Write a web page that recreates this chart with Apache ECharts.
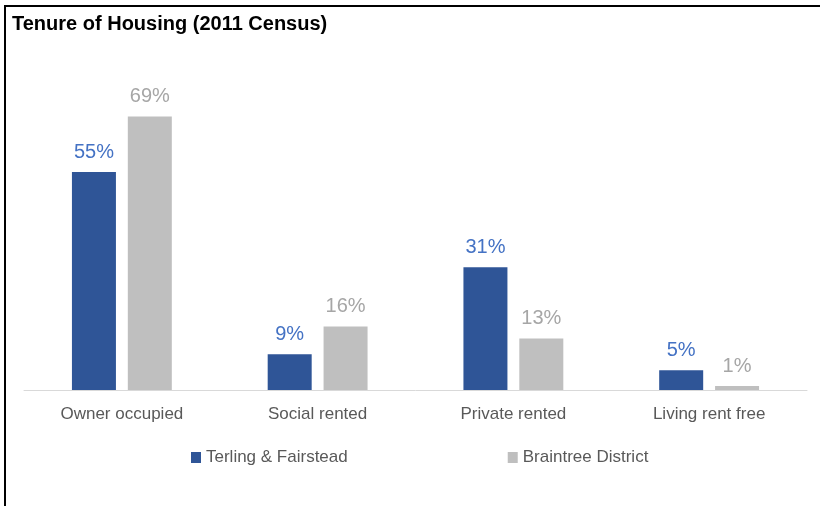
<!DOCTYPE html>
<html>
<head>
<meta charset="utf-8">
<style>
  html, body { margin: 0; padding: 0; background: #ffffff; }
  #chart { width: 820px; height: 506px; }
</style>
<script src="https://cdn.jsdelivr.net/npm/echarts@6/dist/echarts.min.js"></script>
</head>
<body>
<div id="chart"></div>
<script>
// Housing tenure shares, 2011 Census
const categories = ['Owner occupied', 'Social rented', 'Private rented', 'Living rent free'];
const terlingFairstead = [55, 9, 31, 5];
const braintreeDistrict = [69, 16, 13, 1];
const seriesNames = ['Terling & Fairstead', 'Braintree District'];

const FONT = '"Liberation Sans", Arial, sans-serif';

const chart = echarts.init(document.getElementById('chart'));

function barSeries(name, values, barColor, labelColor) {
  return {
    name: name,
    type: 'bar',
    data: values,
    barWidth: 44,
    barGap: '27%',
    itemStyle: { color: barColor },
    label: {
      show: true,
      position: 'top',
      distance: 10,
      formatter: '{c}%',
      color: labelColor,
      fontFamily: FONT,
      fontSize: 20
    }
  };
}

chart.setOption({
  animation: false,
  backgroundColor: '#ffffff',
  title: {
    text: 'Tenure of Housing (2011 Census)',
    left: 7,
    top: 9,
    textStyle: { fontFamily: FONT, fontSize: 20, fontWeight: 'bold', color: '#000000' }
  },
  legend: {
    data: seriesNames,
    left: 186,
    top: 444,
    icon: 'rect',
    itemWidth: 10,
    itemHeight: 11,
    itemGap: 160,
    textStyle: { fontFamily: FONT, fontSize: 17, color: '#595959' }
  },
  grid: { left: 24, right: 13, top: 73, bottom: 116 },
  xAxis: {
    type: 'category',
    data: categories,
    axisTick: { show: false },
    axisLine: { lineStyle: { color: '#D9D9D9', width: 1 } },
    axisLabel: { margin: 16, color: '#595959', fontFamily: FONT, fontSize: 17 }
  },
  yAxis: {
    type: 'value',
    min: 0,
    max: 80,
    show: false,
    splitLine: { show: false }
  },
  series: [
    barSeries(seriesNames[0], terlingFairstead, '#2F5597', '#4472C4'),
    barSeries(seriesNames[1], braintreeDistrict, '#BFBFBF', '#A6A6A6')
  ],
  graphic: [
    { type: 'line', shape: { x1: 5, y1: 5, x2: 5, y2: 506 }, style: { stroke: '#000000', lineWidth: 2 } },
    { type: 'line', shape: { x1: 4, y1: 6, x2: 820, y2: 6 }, style: { stroke: '#000000', lineWidth: 2 } }
  ]
});
</script>
</body>
</html>
